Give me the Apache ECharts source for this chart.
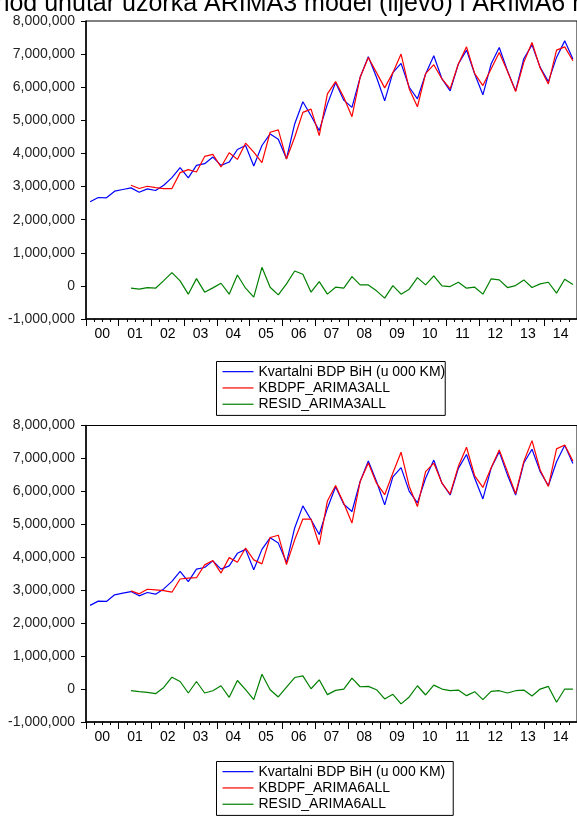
<!DOCTYPE html>
<html>
<head>
<meta charset="utf-8">
<script src="https://cdn.jsdelivr.net/npm/echarts@6/dist/echarts.min.js"></script>
<style>
html,body{margin:0;padding:0;background:#fff;}
#chart{width:577px;height:816px;}
</style>
</head>
<body>
<div id="chart"></div>
<script>
const titleText = 'Period unutar uzorka ARIMA3 model (lijevo) i ARIMA6 model (desno)';
const years = ['00','01','02','03','04','05','06','07','08','09','10','11','12','13','14'];
const quarterNames = ['Q1','Q2','Q3','Q4'];
const yTicks = [-1000000, 0, 1000000, 2000000, 3000000, 4000000, 5000000, 6000000, 7000000, 8000000];

const nameActual = 'Kvartalni BDP BiH (u 000 KM)';
const nameFit3 = 'KBDPF_ARIMA3ALL';
const nameRes3 = 'RESID_ARIMA3ALL';
const nameFit6 = 'KBDPF_ARIMA6ALL';
const nameRes6 = 'RESID_ARIMA6ALL';

const actual = [
  2540000, 2670000, 2660000, 2860000, 2910000, 2960000, 2830000, 2930000, 2880000, 3040000,
  3270000, 3570000, 3260000, 3640000, 3690000, 3890000, 3640000, 3740000, 4120000, 4240000,
  3620000, 4240000, 4590000, 4430000, 3840000, 4890000, 5560000, 5140000, 4690000, 5490000,
  6140000, 5610000, 5390000, 6300000, 6920000, 6300000, 5590000, 6440000, 6720000, 6000000,
  5650000, 6400000, 6950000, 6250000, 5890000, 6700000, 7120000, 6400000, 5770000, 6700000,
  7200000, 6500000, 5890000, 6860000, 7280000, 6600000, 6170000, 6900000, 7400000, 6850000
];
const fit3 = [
  null, null, null, null, null, 3040000, 2940000, 3010000, 2970000, 2940000,
  2940000, 3420000, 3510000, 3440000, 3910000, 3970000, 3590000, 4020000, 3820000, 4310000,
  4040000, 3720000, 4640000, 4710000, 3830000, 4490000, 5240000, 5340000, 4540000, 5800000,
  6170000, 5700000, 5110000, 6300000, 6900000, 6440000, 5980000, 6440000, 7000000, 5950000,
  5410000, 6410000, 6680000, 6250000, 5950000, 6700000, 7220000, 6410000, 6050000, 6550000,
  7050000, 6480000, 5870000, 6750000, 7350000, 6580000, 6100000, 7120000, 7220000, 6800000
];
const resid3 = [
  null, null, null, null, null, -70000, -100000, -50000, -70000, 160000,
  400000, 150000, -250000, 220000, -190000, -60000, 80000, -250000, 330000, -70000,
  -340000, 560000, -40000, -270000, 60000, 450000, 350000, -190000, 130000, -250000,
  -40000, -70000, 280000, 30000, 30000, -150000, -370000, 10000, -250000, -100000,
  250000, 30000, 300000, 0, -20000, 110000, -70000, -40000, -250000, 210000,
  180000, -50000, 10000, 180000, -50000, 60000, 110000, -220000, 200000, 40000
];
const fit6 = [
  null, null, null, null, null, 2980000, 2890000, 3030000, 3010000, 2990000,
  2940000, 3340000, 3370000, 3380000, 3770000, 3900000, 3520000, 3990000, 3850000, 4280000,
  3920000, 3800000, 4600000, 4670000, 3780000, 4530000, 5160000, 5160000, 4380000, 5710000,
  6180000, 5640000, 5040000, 6300000, 6860000, 6250000, 5900000, 6560000, 7190000, 6150000,
  5540000, 6600000, 6860000, 6250000, 5920000, 6760000, 7340000, 6470000, 6120000, 6710000,
  7260000, 6600000, 5930000, 6910000, 7540000, 6650000, 6150000, 7290000, 7410000, 6920000
];
const resid6 = [
  null, null, null, null, null, -50000, -80000, -100000, -140000, 50000,
  360000, 230000, -120000, 230000, -120000, -50000, 100000, -250000, 260000, -20000,
  -320000, 450000, -20000, -240000, 60000, 350000, 400000, 10000, 280000, -170000,
  -40000, 0, 330000, 70000, 80000, -20000, -300000, -160000, -450000, -240000,
  100000, -180000, 120000, 0, -50000, -30000, -200000, -80000, -320000, -70000,
  -50000, -120000, -50000, -30000, -210000, 0, 80000, -400000, 0, 0
];

const quarters = [];
years.forEach(y => quarterNames.forEach(q => quarters.push(y + q)));

const FONT = 'Liberation Sans, Arial, Helvetica, sans-serif';
const BLUE = '#0000ff', RED = '#ff0000', GREEN = '#008000';

const grids = [
  {left: 86, width: 498, top: 21, height: 298},
  {left: 86, width: 498, top: 425.5, height: 296.5}
];

function quarterAxis(g) {
  return {
    gridIndex: g, type: 'category', data: quarters, boundaryGap: true, position: 'bottom',
    axisLine: {show: true, onZero: false, lineStyle: {color: '#000', width: 1.5}},
    axisTick: {show: true, interval: 0, length: 3, lineStyle: {color: '#000', width: 1}},
    axisLabel: {show: false}, splitLine: {show: false}
  };
}
function yearAxis(g) {
  return {
    gridIndex: g, type: 'category', data: years, boundaryGap: true, position: 'bottom',
    axisLine: {show: false, onZero: false},
    axisTick: {show: true, interval: 0, length: 7, lineStyle: {color: '#000', width: 1}},
    axisLabel: {show: true, interval: 0, margin: 8, fontSize: 14, color: '#000', fontFamily: FONT},
    splitLine: {show: false}
  };
}
function valAxis(g) {
  return {
    gridIndex: g, type: 'value', min: yTicks[0], max: yTicks[yTicks.length - 1], interval: 1000000,
    axisLine: {show: true, onZero: false, lineStyle: {color: '#000', width: 1.5}},
    axisTick: {show: true, length: 5, lineStyle: {color: '#000'}},
    axisLabel: {
      margin: 11, fontSize: 14, color: '#222', fontFamily: FONT,
      formatter: v => Number(v).toLocaleString('en-US')
    },
    splitLine: {show: false}
  };
}
function lineSeries(name, data, color, xi, yi) {
  return {
    name: name, type: 'line', data: data, xAxisIndex: xi, yAxisIndex: yi,
    symbol: 'none', connectNulls: false, animation: false,
    lineStyle: {color: color, width: 1.2}, itemStyle: {color: color},
    emphasis: {disabled: true}
  };
}
function legend(top, names, padRight) {
  return {
    orient: 'vertical', left: 216.5, top: top, data: names, icon: 'rect',
    itemWidth: 31, itemHeight: 1.2, itemGap: 0, selectedMode: false,
    padding: [2, padRight, 3, 6], borderColor: '#000', borderWidth: 1,
    textStyle: {fontSize: 14, lineHeight: 16.3, color: '#000', fontFamily: FONT}
  };
}

const chart = echarts.init(document.getElementById('chart'), null, {renderer: 'canvas'});
chart.setOption({
  animation: false,
  backgroundColor: '#fff',
  grid: grids.map(g => Object.assign({show: true, borderColor: '#000', borderWidth: 1, backgroundColor: 'transparent'}, g)),
  xAxis: [quarterAxis(0), yearAxis(0), quarterAxis(1), yearAxis(1)],
  yAxis: [valAxis(0), valAxis(1)],
  legend: [
    legend(361.5, [nameActual, nameFit3, nameRes3], 0),
    legend(761.5, [nameActual, nameFit6, nameRes6], 8)
  ],
  graphic: [{
    type: 'text', left: -35, top: -8, silent: true,
    style: {text: titleText, fontSize: 25, fontFamily: FONT, fill: '#000'}
  }],
  series: [
    lineSeries(nameActual, actual, BLUE, 0, 0),
    lineSeries(nameFit3, fit3, RED, 0, 0),
    lineSeries(nameRes3, resid3, GREEN, 0, 0),
    lineSeries(nameActual, actual, BLUE, 2, 1),
    lineSeries(nameFit6, fit6, RED, 2, 1),
    lineSeries(nameRes6, resid6, GREEN, 2, 1)
  ]
});
</script>
</body>
</html>
